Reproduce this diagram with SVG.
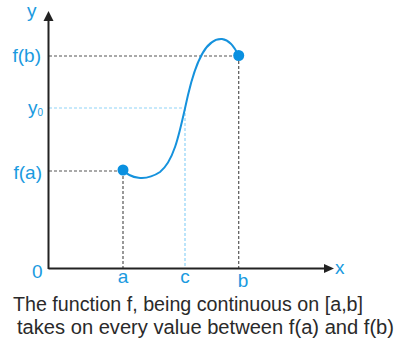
<svg xmlns="http://www.w3.org/2000/svg" width="396" height="343" viewBox="0 0 396 343">
<style>
.lbl{font-family:"Liberation Sans",Arial,sans-serif;font-size:19px;fill:#1a9ae0}
.cap{font-family:"Liberation Sans",Arial,sans-serif;font-size:19.5px;fill:#2a2a2a}
.gd{stroke:#555;stroke-width:1.2;stroke-dasharray:3,2;fill:none}
.bd{stroke:#8fd3f7;stroke-width:1.2;stroke-dasharray:3,2;fill:none}
.ax{stroke:#222;stroke-width:2;fill:none}
</style>
<rect width="396" height="343" fill="#fff"/>
<g id="guides">
<path class="gd" d="M49,56H238.7M49,171H123M123,171V268M238.7,56V268"/>
<path class="bd" d="M49,108H185M185,108V268"/>
</g>
<g id="axes">
<path class="ax" d="M48.5,269V20M48.5,268.5H325"/>
<path d="M43.5,21L48.5,11L53.5,21Z" fill="#222"/>
<path d="M324,264L334,268.5L324,273Z" fill="#222"/>
</g>
<g id="curve">
<path d="M123,170C130,178 145,182 160,172C175,160 180,130 188,95C195,65 205,38 222,39C230,40 236,50 238.7,56" stroke="#1592dd" stroke-width="2" fill="none"/>
<circle cx="123" cy="170" r="5.5" fill="#0a90e0"/>
<circle cx="238.7" cy="55.5" r="5.5" fill="#0a90e0"/>
</g>
<g id="labels">
<text class="lbl" x="27" y="17">y</text>
<text class="lbl" x="41" y="62" text-anchor="end">f(b)</text>
<text class="lbl" x="28" y="114">y<tspan font-size="10" dy="2">0</tspan></text>
<text class="lbl" x="42" y="179" text-anchor="end">f(a)</text>
<text class="lbl" x="32" y="278">0</text>
<text class="lbl" x="123" y="283" text-anchor="middle">a</text>
<text class="lbl" x="185" y="283" text-anchor="middle">c</text>
<text class="lbl" x="243" y="287" text-anchor="middle">b</text>
<text class="lbl" x="335" y="274">x</text>
</g>
<g id="caption">
<text class="cap" x="13" y="311" textLength="350" lengthAdjust="spacingAndGlyphs">The function f, being continuous on [a,b]</text>
<text class="cap" x="17" y="334" textLength="377" lengthAdjust="spacingAndGlyphs">takes on every value between f(a) and f(b)</text>
</g>
</svg>
